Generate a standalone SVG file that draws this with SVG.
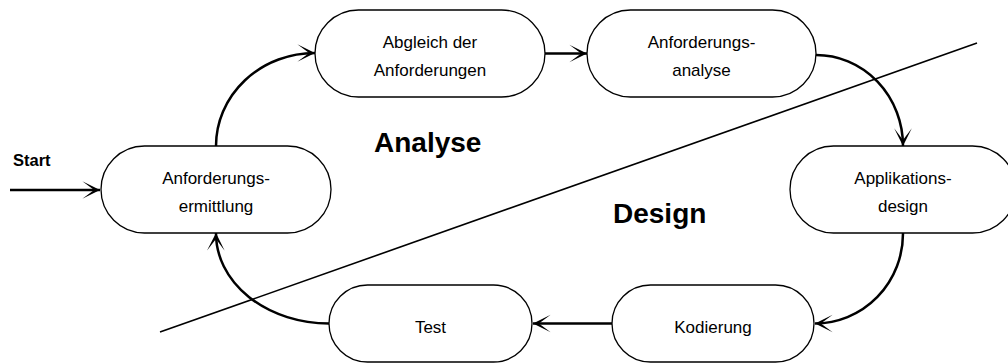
<svg xmlns="http://www.w3.org/2000/svg" width="1008" height="363" viewBox="0 0 1008 363">
  <style>
    .node rect { fill: #ffffff; stroke: #000000; stroke-width: 1.3; }
    .node text { font-family: "Liberation Sans", Arial, sans-serif; font-size: 17px; fill: #000000; text-anchor: middle; }
    .big { font-family: "Liberation Sans", Arial, sans-serif; font-weight: bold; font-size: 28px; fill: #000000; }
    .start { font-family: "Liberation Sans", Arial, sans-serif; font-weight: bold; font-size: 16.5px; fill: #000000; }
    .conn path { fill: none; stroke: #000000; stroke-width: 2.5; marker-end: url(#arr); }
  </style>
  <defs>
    <marker id="arr" markerUnits="userSpaceOnUse" markerWidth="20" markerHeight="20" viewBox="-16 -8 17 16" refX="0" refY="0" orient="auto" overflow="visible">
      <path d="M0,0 L-15,-7.5 L-5,0 L-15,7.5 Z" fill="#000000"/>
    </marker>
  </defs>
  <rect x="0" y="0" width="1008" height="363" fill="#ffffff"/>

  <line id="divider" x1="160" y1="332" x2="977" y2="43" stroke="#000000" stroke-width="1.6"/>

  <text class="big" x="374" y="152">Analyse</text>
  <text class="big" x="613" y="223">Design</text>
  <text class="start" x="13" y="166">Start</text>

  <g class="conn" id="connectors">
    <path d="M10,190 L100,190"/>
    <path d="M216,146 A99,93 0 0 1 315,53"/>
    <path d="M545,53.5 L587,53.5"/>
    <path d="M816,55 A87,91 0 0 1 903,146"/>
    <path d="M903,233 A88,90 0 0 1 815,323.5"/>
    <path d="M612,323.5 L533,323.5"/>
    <path d="M329,323.5 A113,90 0 0 1 216,233"/>
  </g>

  <g class="node" id="n-ermittlung">
    <rect x="101" y="146" width="230" height="87" rx="43.5" ry="43.5"/>
    <text x="216" y="183.5">Anforderungs-</text>
    <text x="216" y="211.5">ermittlung</text>
  </g>
  <g class="node" id="n-abgleich">
    <rect x="315" y="10" width="230" height="87" rx="43.5" ry="43.5"/>
    <text x="430" y="47.5">Abgleich der</text>
    <text x="430" y="75.5">Anforderungen</text>
  </g>
  <g class="node" id="n-analyse">
    <rect x="587" y="10" width="229" height="87" rx="43.5" ry="43.5"/>
    <text x="701.5" y="47.5">Anforderungs-</text>
    <text x="701.5" y="75.5">analyse</text>
  </g>
  <g class="node" id="n-design">
    <rect x="790" y="146" width="226" height="87" rx="43.5" ry="43.5"/>
    <text x="903" y="183.5">Applikations-</text>
    <text x="903" y="211.5">design</text>
  </g>
  <g class="node" id="n-kodierung">
    <rect x="612" y="285" width="202" height="77" rx="38.5" ry="38.5"/>
    <text x="713" y="333">Kodierung</text>
  </g>
  <g class="node" id="n-test">
    <rect x="329" y="285" width="203" height="77" rx="38.5" ry="38.5"/>
    <text x="430.5" y="333">Test</text>
  </g>
</svg>
